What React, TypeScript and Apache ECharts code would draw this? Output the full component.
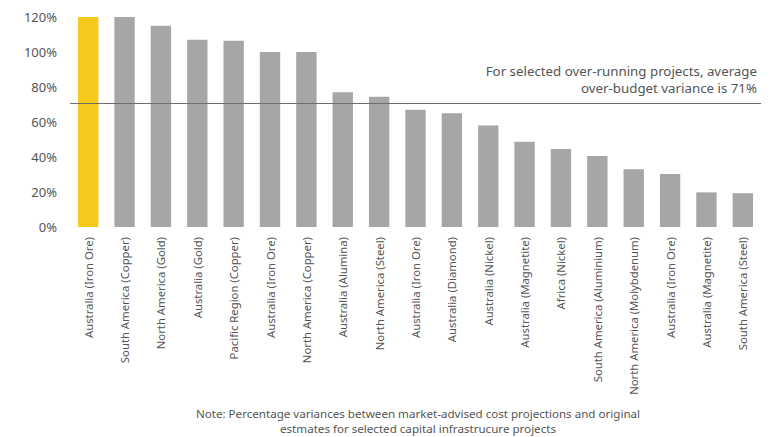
import React, { useEffect, useRef } from "react";
import * as echarts from "echarts";

const categories = [
  "Australia (Iron Ore)",
  "South America (Copper)",
  "North America (Gold)",
  "Australia (Gold)",
  "Pacific Region (Copper)",
  "Australia (Iron Ore)",
  "North America (Copper)",
  "Australia (Alumina)",
  "North America (Steel)",
  "Australia (Iron Ore)",
  "Australia (Diamond)",
  "Australia (Nickel)",
  "Australia (Magnetite)",
  "Africa (Nickel)",
  "South America (Aluminium)",
  "North America (Molybdenum)",
  "Australia (Iron Ore)",
  "Australia (Magnetite)",
  "South America (Steel)",
];

const variance = [121, 120, 115, 107, 106.5, 100, 100, 77, 74.5, 67, 65, 58, 48.7, 44.6, 40.6, 33, 30.3, 19.8, 19.3];

const highlightIndex = 0;
const averageVariance = 71;
const yTicks = [0, 20, 40, 60, 80, 100, 120];

const annotation = "For selected over-running projects, average\nover-budget variance is 71%";
const note =
  "Note: Percentage variances between market-advised cost projections and original\nestmates for selected capital infrastrucure projects";

export default function App() {
  const ref = useRef<HTMLDivElement>(null);
  useEffect(() => {
    if (!ref.current) return;
    const chart = echarts.init(ref.current, undefined, { renderer: "svg" });
    const font = "'Noto Sans', 'Open Sans', sans-serif";
    chart.setOption({
      animation: false,
      grid: { left: 62, right: 12, top: 9, bottom: 210, containLabel: false },
      xAxis: {
        type: "category",
        data: categories,
        axisLine: { show: false },
        axisTick: { show: false },
        axisLabel: {
          rotate: 90,
          interval: 0,
          margin: 10,
          color: "#555",
          fontSize: 11.3,
          fontFamily: font,
        },
      },
      yAxis: {
        type: "value",
        min: yTicks[0],
        max: yTicks[yTicks.length - 1],
        interval: 20,
        splitLine: { show: false },
        axisLine: { show: false },
        axisTick: { show: false },
        axisLabel: {
          formatter: "{value}%",
          color: "#555",
          fontSize: 13,
          fontFamily: font,
          margin: 13,
        },
      },
      graphic: [
        {
          type: "text",
          x: 410,
          y: 398,
          style: {
            text: note,
            fill: "#555",
            font: `11.6px ${font}`,
            textAlign: "center",
            lineHeight: 15,
          },
        },
      ],
      series: [
        {
          type: "bar",
          barWidth: "56%",
          data: variance.map((v, i) => ({
            value: v,
            itemStyle: { color: i === highlightIndex ? "#f6ca1c" : "#a6a6a9" },
          })),
          markLine: {
            symbol: "none",
            silent: true,
            lineStyle: { color: "#6e6e6e", width: 1, type: "solid" },
            data: [{ yAxis: averageVariance }],
            label: {
              show: true,
              position: "insideEndTop",
              formatter: annotation,
              color: "#555",
              fontSize: 13.3,
              fontFamily: font,
              align: "right",
              lineHeight: 17,
              distance: [4, 6],
            },
          },
        },
      ],
    });
    return () => chart.dispose();
  }, []);
  return <div ref={ref} style={{ width: 765, height: 429 }} />;
}
